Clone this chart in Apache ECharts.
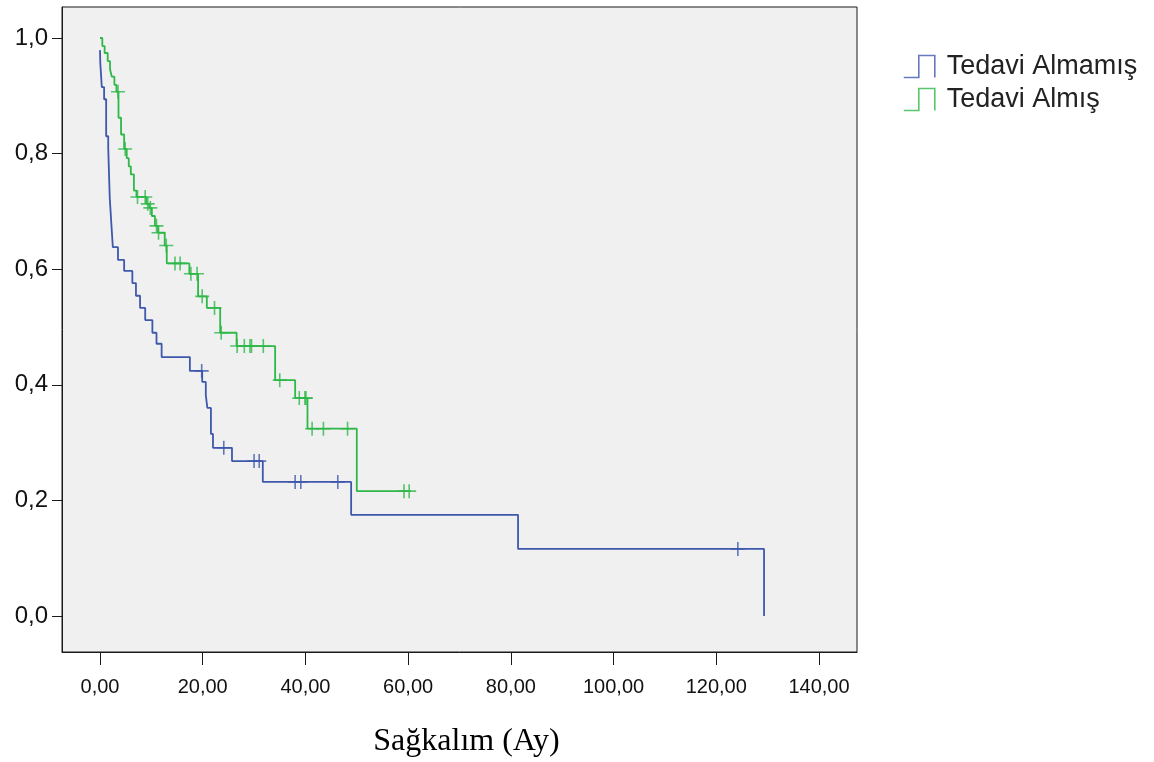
<!DOCTYPE html>
<html>
<head>
<meta charset="utf-8">
<script src="https://cdn.jsdelivr.net/npm/echarts@6/dist/echarts.min.js"></script>
<style>
html,body{margin:0;padding:0;background:#fff;}
#chart{width:1154px;height:762px;}
</style>
</head>
<body>
<div id="chart"></div>
<script>
// Series names
const seriesNames = ['Tedavi Almamış', 'Tedavi Almış'];
// Tick values
const xTicks = [0, 20, 40, 60, 80, 100, 120, 140];
const yTicks = [0, 0.2, 0.4, 0.6, 0.8, 1.0];
const axisTitle = 'Sağkalım (Ay)';

// Kaplan-Meier steps: [time, survival after event]
const untreatedCurve = [
  [0, 0.979], [0.05, 0.958], [0.35, 0.915], [0.8, 0.894], [1.2, 0.830], [1.6, 0.810],
  [1.9, 0.723], [2.2, 0.680], [2.5, 0.638], [3.5, 0.616], [4.7, 0.597], [6.3, 0.576],
  [7.0, 0.554], [7.8, 0.533], [8.8, 0.512], [10.2, 0.490], [11.0, 0.471], [12.0, 0.448],
  [17.5, 0.424], [19.9, 0.405], [20.6, 0.382], [20.9, 0.360], [21.6, 0.315], [22.0, 0.291],
  [25.7, 0.268], [31.7, 0.232], [48.9, 0.175], [81.4, 0.116], [129.3, 0.0]
];
const untreatedCensored = [
  [19.8, 0.424], [24.1, 0.291], [30.0, 0.268], [31.0, 0.268], [38.0, 0.232],
  [39.1, 0.232], [46.3, 0.232], [124.2, 0.116]
];
const treatedCurve = [
  [0, 1.0], [0.45, 0.986], [0.9, 0.974], [1.5, 0.960], [1.95, 0.946], [2.3, 0.933],
  [2.8, 0.919], [3.2, 0.907], [3.6, 0.862], [4.1, 0.833], [4.7, 0.808], [5.2, 0.792],
  [5.6, 0.778], [6.0, 0.764], [6.6, 0.736], [7.1, 0.725], [9.0, 0.713], [9.6, 0.706],
  [10.1, 0.692], [10.7, 0.675], [11.3, 0.663], [12.6, 0.641], [13.0, 0.610], [17.4, 0.592],
  [19.1, 0.553], [20.8, 0.533], [23.4, 0.490], [26.6, 0.467], [34.1, 0.408], [38.0, 0.377],
  [40.4, 0.324], [50.0, 0.216], [60.2, 0.216]
];
const treatedCensored = [
  [3.5, 0.907], [4.9, 0.808], [7.3, 0.725], [8.8, 0.725], [9.3, 0.713], [9.8, 0.706],
  [11.0, 0.675], [11.4, 0.663], [12.9, 0.641], [14.6, 0.610], [15.6, 0.610], [17.7, 0.592],
  [18.9, 0.592], [19.9, 0.553], [22.3, 0.533], [23.6, 0.490], [26.7, 0.467], [28.1, 0.467],
  [29.2, 0.467], [29.5, 0.467], [31.8, 0.467], [35.0, 0.408], [38.8, 0.377], [39.9, 0.377],
  [40.1, 0.377], [41.3, 0.324], [43.5, 0.324], [48.2, 0.324], [59.2, 0.216], [60.2, 0.216]
];

const colors = ['#3E58AC', '#2EB848'];
const plusSymbol = 'path://M7,0 L7,14 M0,7 L14,7';
const stepIcon = 'path://M0,22 L15,22 L15,0 L31,0 L31,22';

function censorSeries(name, data, color) {
  return {
    name: name, type: 'scatter', data: data, symbol: plusSymbol, symbolSize: 14,
    itemStyle: { color: 'rgba(0,0,0,0)', borderColor: color, borderWidth: 1.6 },
    emphasis: { disabled: true }, z: 3
  };
}
function curveSeries(name, data, color) {
  return {
    name: name, type: 'line', step: 'end', data: data, showSymbol: false, symbol: 'none',
    lineStyle: { color: color, width: 1.8 }, itemStyle: { color: color },
    emphasis: { disabled: true }, z: 2
  };
}

const chart = echarts.init(document.getElementById('chart'));
chart.setOption({
  animation: false,
  backgroundColor: '#ffffff',
  grid: {
    left: 62, right: 297, top: 7, bottom: 110, outerBoundsMode: 'none', containLabel: false,
    show: true, backgroundColor: '#F0F0F0', borderColor: '#1a1a1a', borderWidth: 1
  },
  legend: {
    orient: 'vertical', left: 903, top: 53, padding: 0,
    itemWidth: 31, itemHeight: 22, itemGap: 6,
    textStyle: { fontFamily: 'Liberation Sans, Arial, sans-serif', fontSize: 27, lineHeight: 22,
                 color: '#222', padding: [0, 0, 0, 7] },
    itemStyle: { borderWidth: 1.6 },
    data: [
      { name: seriesNames[0], icon: stepIcon },
      { name: seriesNames[1], icon: stepIcon }
    ]
  },
  xAxis: {
    type: 'value', min: -7.4, max: 147.4,
    name: axisTitle, nameLocation: 'middle', nameGap: 74,
    nameTextStyle: { fontFamily: 'Liberation Serif, Times New Roman, serif', fontSize: 32, color: '#000',
                     padding: [0, 0, 0, 14] },
    axisLine: { show: true, onZero: false, lineStyle: { color: '#1a1a1a', width: 1 } },
    axisTick: { show: true, customValues: xTicks, length: 13, lineStyle: { color: '#1a1a1a' } },
    axisLabel: {
      customValues: xTicks, margin: 25,
      fontFamily: 'Liberation Sans, Arial, sans-serif', fontSize: 20, color: '#111',
      formatter: v => v.toFixed(2).replace('.', ',')
    },
    splitLine: { show: false }
  },
  yAxis: {
    type: 'value', min: -0.0623, max: 1.0536,
    axisLine: { show: true, onZero: false, lineStyle: { color: '#1a1a1a', width: 1 } },
    axisTick: { show: true, customValues: yTicks, length: 10, lineStyle: { color: '#1a1a1a' } },
    axisLabel: {
      customValues: yTicks, margin: 14,
      fontFamily: 'Liberation Sans, Arial, sans-serif', fontSize: 24, color: '#111',
      formatter: v => v.toFixed(1).replace('.', ',')
    },
    splitLine: { show: false }
  },
  series: [
    censorSeries(seriesNames[0], untreatedCensored, colors[0]),
    censorSeries(seriesNames[1], treatedCensored, colors[1]),
    curveSeries(seriesNames[0], untreatedCurve, colors[0]),
    curveSeries(seriesNames[1], treatedCurve, colors[1])
  ]
});
</script>
</body>
</html>
